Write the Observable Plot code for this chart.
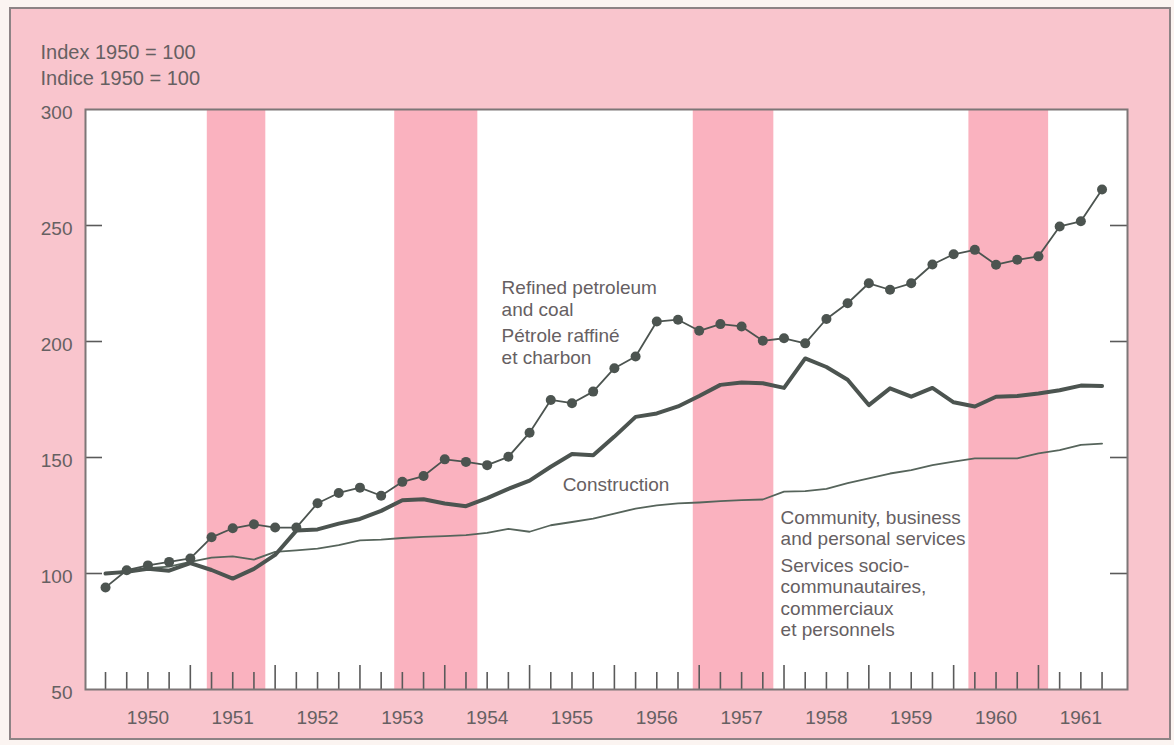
<!DOCTYPE html>
<html>
<head>
<meta charset="utf-8">
<script src="https://cdn.jsdelivr.net/npm/d3@7"></script>
<script src="https://cdn.jsdelivr.net/npm/@observablehq/plot@0.6"></script>
<style>
  html, body { margin: 0; padding: 0; background: #fbf4f1; }
  #wrap { position: relative; width: 1174px; height: 745px; overflow: hidden; background: #fbf4f1; }
  #panel { position: absolute; left: 9px; top: 7px; width: 1158px; height: 729px;
           background: #f9c5cd; border: 2px solid #8d8385; }
  #chart { position: absolute; left: 0; top: 0; }
</style>
</head>
<body>
<div id="wrap"><div id="panel"></div><div id="chart"></div></div>
<script>
// ---- Data (quarterly index, 1950 = 100) ----
const years = [1950, 1951, 1952, 1953, 1954, 1955, 1956, 1957, 1958, 1959, 1960, 1961];

const petroleum = [
  94.0, 101.4, 103.5, 105.0,
  106.5, 115.6, 119.5, 121.2,
  119.8, 119.8, 130.3, 134.7,
  137.0, 133.5, 139.5, 142.0,
  149.2, 148.1, 146.7, 150.3,
  160.7, 174.8, 173.4, 178.4,
  188.5, 193.5, 208.6, 209.4,
  204.6, 207.5, 206.5, 200.3,
  201.4, 199.2, 209.7, 216.5,
  225.1, 222.3, 225.1, 233.2,
  237.6, 239.5, 233.1, 235.2,
  236.7, 249.6, 251.8, 265.5
];

const construction = [
  100.0, 100.7, 102.0, 101.2,
  104.5, 101.5, 97.8, 102.0,
  108.0, 118.5, 119.0, 121.5,
  123.5, 127.0, 131.6, 132.0,
  130.2, 129.0, 132.5, 136.5,
  140.0, 146.0, 151.5, 151.0,
  159.0, 167.5, 169.0, 172.0,
  176.5, 181.3, 182.3, 182.0,
  180.0, 192.7, 189.0, 183.5,
  172.6, 179.8, 176.2, 180.0,
  173.8, 172.0, 176.2, 176.5,
  177.6, 179.0, 181.0, 180.8
];

const community = [
  100.0, 101.0, 102.3, 103.0,
  105.0, 106.8, 107.4, 106.0,
  109.3, 110.0, 110.7, 112.2,
  114.3, 114.6, 115.3, 115.8,
  116.1, 116.5, 117.5, 119.2,
  118.0, 120.8, 122.2, 123.7,
  125.8, 128.0, 129.4, 130.2,
  130.6, 131.2, 131.6, 131.9,
  135.3, 135.5, 136.5, 139.0,
  141.0, 143.1, 144.6, 146.7,
  148.2, 149.6, 149.6, 149.6,
  151.8, 153.2, 155.4, 156.0
];

// shaded periods (fractional years)
const bandStart = [1951.20, 1953.41, 1956.93, 1960.18];
const bandEnd   = [1951.89, 1954.39, 1957.88, 1961.12];

const yTickValues = [50, 100, 150, 200, 250, 300];
const yInnerTicks = [100, 150, 200, 250];

const titleText = "Index 1950 = 100\nIndice 1950 = 100";
const labelTexts = [
  "Refined petroleum\nand coal",
  "Pétrole raffiné\net charbon",
  "Construction",
  "Community, business\nand personal services",
  "Services socio-\ncommunautaires,\ncommerciaux\net personnels"
];

// ---- Layout / derived ----
const W = 1174, H = 745;
const mTop = 109, mLeft = 85, mRight = 47, mBottom = 56;
const plotW = W - mLeft - mRight, plotH = H - mTop - mBottom;

const quarters = years.flatMap(y => [0, 1, 2, 3].map(q => y + q / 4));
const rows = quarters.map((t, i) => ({t, pet: petroleum[i], con: construction[i], com: community[i]}));
const shortTicks = quarters.filter(t => !(Number.isInteger(t) && t > years[0]));
const tallTicks = years.slice(1);
const bands = bandStart.map((s, i) => ({x1: s, x2: bandEnd[i]}));

// label anchors (x in years, y in index units)
const labelPos = [
  {x: 1954.67, y: 227.0},
  {x: 1954.67, y: 206.3},
  {x: 1955.39, y: 142.1},
  {x: 1957.96, y: 127.9},
  {x: 1957.96, y: 107.2}
];
const labels = labelTexts.map((text, i) => ({text, ...labelPos[i]}));

const ink = "#4c5450";
const textCol = "#666062";

const chart = Plot.plot({
  width: W,
  height: H,
  marginTop: mTop,
  marginLeft: mLeft,
  marginRight: mRight,
  marginBottom: mBottom,
  style: {background: "transparent", fontFamily: "'Liberation Sans', Arial, Helvetica, sans-serif", fontSize: "19px", color: textCol},
  x: {domain: [1949.764, 1962.05]},
  y: {domain: [50, 300]},
  marks: [
    Plot.frame({fill: "white", stroke: null}),
    Plot.rect(bands, {x1: "x1", x2: "x2", fill: "#fab2bf"}),
    // quarter ticks along the bottom (inside)
    Plot.tickX(shortTicks, {x: d => d, stroke: "#5a5a5a", strokeWidth: 1.6, insetTop: plotH - 17}),
    Plot.tickX(tallTicks, {x: d => d, stroke: "#5a5a5a", strokeWidth: 1.6, insetTop: plotH - 24}),
    // y ticks inside left and right
    Plot.tickY(yInnerTicks, {y: d => d, stroke: "#5a5a5a", strokeWidth: 1.6, insetRight: plotW - 17}),
    Plot.tickY(yInnerTicks, {y: d => d, stroke: "#5a5a5a", strokeWidth: 1.6, insetLeft: plotW - 17}),
    // series
    Plot.line(rows, {x: "t", y: "com", stroke: "#56645b", strokeWidth: 1.8}),
    Plot.line(rows, {x: "t", y: "con", stroke: ink, strokeWidth: 4, strokeLinejoin: "round"}),
    Plot.line(rows, {x: "t", y: "pet", stroke: ink, strokeWidth: 1.8}),
    Plot.dot(rows, {x: "t", y: "pet", r: 5, fill: ink, stroke: null}),
    // labels
    Plot.text(labels, {x: "x", y: "y", text: "text", textAnchor: "start", lineAnchor: "top",
                       lineHeight: 1.13, fontSize: 19, fill: textCol}),
    Plot.text([titleText], {frameAnchor: "top-left", text: d => d, dx: -45, dy: -69, textAnchor: "start",
                            lineAnchor: "top", lineHeight: 1.3, fontSize: 20, fill: textCol}),
    Plot.frame({stroke: "#7d7677", strokeWidth: 2}),
    Plot.axisY({ticks: yTickValues, tickSize: 0, tickPadding: 13, fontSize: 19, dy: 3, tickFormat: d => String(d)}),
    Plot.axisX({ticks: years.map(y => y + 0.5), tickFormat: d => String(Math.floor(d)), tickSize: 0, tickPadding: 21, fontSize: 19})
  ]
});

document.getElementById("chart").appendChild(chart);
</script>
</body>
</html>
